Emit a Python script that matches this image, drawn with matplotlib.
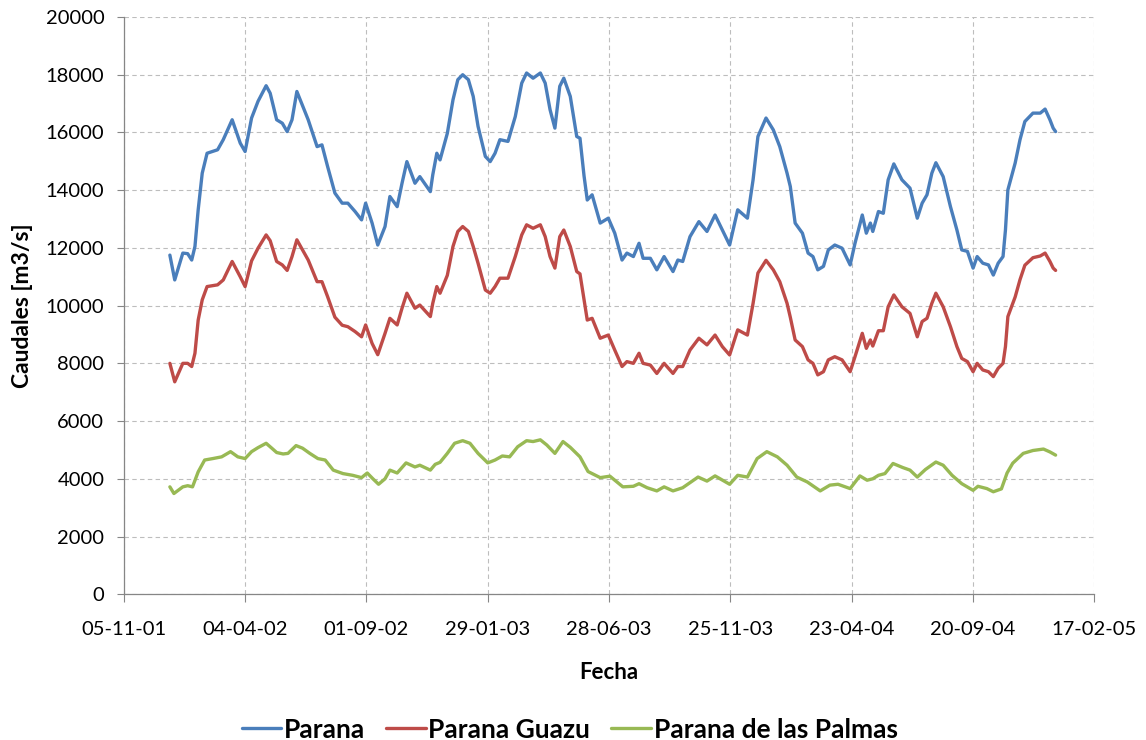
import numpy as np
import pandas as pd
import matplotlib
matplotlib.use("Agg")
import matplotlib.pyplot as plt
import matplotlib.dates as mdates

plt.rcParams['font.family'] = ['Lato', 'DejaVu Sans']

# dias contados desde el 01-01-2002
inicio = pd.Timestamp('2002-01-01')

dias_pg = [0, 6, 16, 22, 27, 31, 35, 40, 46, 59,
           66, 77, 87, 93, 101, 109, 119, 124, 132, 139,
           145, 151, 157, 171, 182, 188, 195, 204, 213, 220,
           229, 237, 242, 250, 257, 266, 272, 281, 287, 293,
           303, 309, 322, 325, 330, 334, 343, 350, 356, 362,
           369, 375, 381, 390, 396, 402, 408, 418, 427, 435,
           441, 449, 458, 464, 470, 476, 482, 487, 495, 503,
           507, 512, 516, 522, 532, 542, 550, 559, 565, 573,
           580, 585, 594, 602, 611, 622, 628, 634, 643, 654,
           664, 674, 683, 692, 702, 714, 721, 727, 737, 746,
           754, 763, 767, 773, 782, 789, 795, 801, 808, 814,
           822, 831, 841, 847, 856, 861, 866, 869, 876, 882,
           888, 895, 905, 915, 924, 930, 936, 942, 947, 956,
           965, 973, 979, 986, 993, 998, 1005, 1012, 1018, 1024,
           1030, 1033, 1036, 1045, 1051, 1057, 1067, 1076, 1082, 1088,
           1092, 1095]

parana = [11750, 10890, 11820, 11800, 11580, 12050, 13320, 14590, 15280, 15400,
          15750, 16440, 15630, 15340, 16500, 17080, 17620, 17360, 16440, 16320,
          16030, 16440, 17420, 16440, 15510, 15570, 14820, 13900, 13550, 13550,
          13260, 12970, 13550, 12860, 12100, 12740, 13780, 13430, 14240, 14990,
          14240, 14470, 13950, 14530, 15280, 15050, 15970, 17130, 17830, 18000,
          17830, 17250, 16210, 15170, 14990, 15280, 15750, 15690, 16550, 17710,
          18060, 17880, 18060, 17710, 16790, 16150, 17600, 17880, 17250, 15860,
          15800, 14500, 13660, 13840, 12860, 13030, 12510, 11580, 11820, 11700,
          12160, 11640, 11640, 11240, 11700, 11180, 11580, 11530, 12390, 12910,
          12570, 13140, 12620, 12100, 13320, 13030, 14360, 15860, 16500, 16090,
          15510, 14590, 14130, 12860, 12510, 11820, 11700, 11240, 11360, 11930,
          12100, 11990, 11410, 12160, 13140, 12510, 12860, 12570, 13260, 13200,
          14360, 14910, 14360, 14070, 13030, 13550, 13840, 14590, 14950, 14470,
          13430, 12620, 11930, 11880, 11300, 11700, 11470, 11410, 11060, 11470,
          11700, 12620, 14010, 14940, 15750, 16380, 16670, 16670, 16810, 16440,
          16150, 16030]

guazu = [8000, 7360, 8000, 8000, 7890, 8350, 9500, 10200, 10660, 10720,
         10890, 11530, 11000, 10660, 11550, 11990, 12450, 12250, 11530, 11410,
         11220, 11700, 12280, 11580, 10830, 10830, 10310, 9600, 9320, 9270,
         9100, 8920, 9330, 8690, 8300, 9040, 9560, 9330, 9910, 10430,
         9910, 10020, 9620, 10080, 10660, 10430, 11050, 12050, 12570, 12740,
         12570, 12050, 11470, 10540, 10430, 10660, 10950, 10950, 11700, 12450,
         12800, 12680, 12800, 12390, 11700, 11300, 12390, 12620, 12050, 11180,
         11100, 10200, 9500, 9560, 8870, 8980, 8460, 7890, 8060, 8000,
         8350, 8000, 7940, 7650, 8000, 7650, 7890, 7890, 8460, 8870,
         8640, 8980, 8580, 8290, 9160, 8980, 10080, 11130, 11570, 11240,
         10830, 10080, 9600, 8810, 8580, 8120, 8000, 7600, 7710, 8120,
         8230, 8120, 7710, 8230, 9040, 8520, 8810, 8600, 9130, 9130,
         9960, 10370, 9960, 9730, 8920, 9450, 9560, 10080, 10430, 9960,
         9270, 8580, 8170, 8060, 7710, 8000, 7770, 7710, 7540, 7830,
         8000, 8580, 9620, 10300, 10900, 11400, 11660, 11720, 11820, 11530,
         11300, 11220]

dias_palmas = [0, 5, 16, 22, 28, 35, 43, 53, 64, 75,
               84, 93, 101, 109, 119, 126, 132, 140, 146, 156,
               164, 173, 183, 192, 202, 214, 226, 237, 244, 251,
               258, 266, 272, 281, 292, 303, 309, 322, 328, 334,
               343, 352, 362, 371, 381, 393, 402, 411, 420, 430,
               441, 449, 458, 466, 476, 486, 495, 507, 517, 532,
               544, 560, 573, 580, 590, 602, 611, 622, 634, 653,
               664, 674, 692, 702, 714, 726, 738, 751, 763, 775,
               788, 804, 816, 826, 841, 853, 862, 869, 876, 884,
               894, 906, 915, 924, 934, 947, 956, 967, 979, 993,
               999, 1010, 1018, 1028, 1035, 1042, 1055, 1067, 1080, 1088,
               1095]

palmas = [3720, 3490, 3720, 3760, 3720, 4240, 4650, 4700, 4760, 4940,
          4760, 4700, 4940, 5080, 5230, 5060, 4910, 4860, 4880, 5150,
          5060, 4880, 4700, 4650, 4300, 4180, 4120, 4040, 4200, 4000,
          3810, 4000, 4300, 4200, 4550, 4410, 4470, 4300, 4500, 4570,
          4880, 5230, 5320, 5230, 4880, 4550, 4650, 4790, 4760, 5110,
          5320, 5290, 5350, 5170, 4880, 5290, 5090, 4760, 4250, 4040,
          4090, 3720, 3740, 3830, 3690, 3580, 3720, 3580, 3690, 4060,
          3920, 4100, 3810, 4120, 4060, 4700, 4940, 4760, 4470, 4060,
          3890, 3580, 3780, 3810, 3660, 4100, 3950, 4000, 4120, 4180,
          4530, 4390, 4300, 4060, 4320, 4580, 4470, 4120, 3830, 3600,
          3740, 3660, 3550, 3650, 4200, 4540, 4880, 4980, 5030, 4930,
          4820]

nombres = ['Parana', 'Parana Guazu', 'Parana de las Palmas']
colores = ['#4a7ebb', '#be4b48', '#98b954']

# eje x de Excel: desde 05-11-01, paso de 150 dias
eje_inicio = pd.Timestamp('2001-11-05')
eje_paso = 150
eje_n = 8

fechas_pg = inicio + pd.to_timedelta(dias_pg, unit='D')
fechas_palmas = inicio + pd.to_timedelta(dias_palmas, unit='D')

fig = plt.figure(figsize=(11.46, 7.40), dpi=100)
ax = fig.add_axes([0.108, 0.197, 0.847, 0.780])

estilo = dict(lw=2.4, solid_joinstyle='round', solid_capstyle='round')
ax.plot(fechas_pg, parana, color=colores[0], label=nombres[0], **estilo)
ax.plot(fechas_pg, guazu, color=colores[1], label=nombres[1], **estilo)
ax.plot(fechas_palmas, palmas, color=colores[2], label=nombres[2], **estilo)

ticks = [eje_inicio + pd.Timedelta(days=eje_paso * i) for i in range(eje_n + 1)]
ax.set_xlim(ticks[0], ticks[-1])
ax.set_xticks(ticks)
ax.xaxis.set_major_formatter(mdates.DateFormatter('%d-%m-%y'))
ax.set_ylim(0, 20000)
ax.set_yticks(np.arange(0, 20001, 2000))

ax.grid(True, color='#bdbdbd', lw=0.8, ls=(0, (4, 3)))
ax.set_axisbelow(True)
for s in ['top', 'right']:
    ax.spines[s].set_visible(False)
for s in ['left', 'bottom']:
    ax.spines[s].set_color('#868686')
    ax.spines[s].set_linewidth(0.9)

ax.tick_params(axis='x', direction='out', length=6, color='#868686', pad=13, labelsize=14.5)
ax.tick_params(axis='y', direction='out', length=5, color='#868686', pad=9, labelsize=14.5)

ax.set_xlabel('Fecha', fontsize=16, fontweight='bold')
ax.set_ylabel('Caudales [m3/s]', fontsize=16.5, fontweight='bold')
ax.xaxis.set_label_coords(0.5, -0.118)
ax.yaxis.set_label_coords(-0.094, 0.5)

fig.legend(loc='center', bbox_to_anchor=(0.497, 0.014), ncol=3, frameon=False,
           prop={'size': 19, 'weight': 'bold'}, handlelength=1.5, handletextpad=0.1,
           columnspacing=0.8)

fig.savefig('out.png', dpi=100)
